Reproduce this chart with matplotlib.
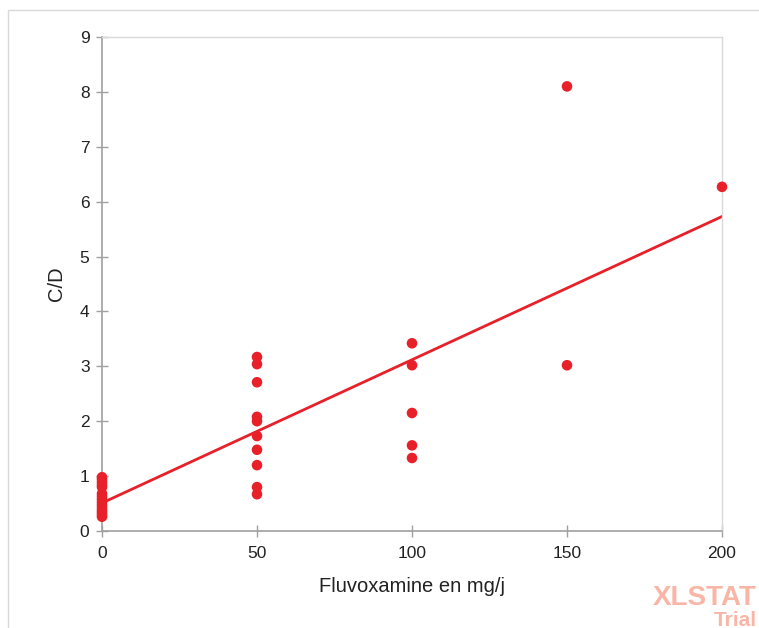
import matplotlib
matplotlib.use("Agg")
import matplotlib.pyplot as plt
from matplotlib.patches import Rectangle
import numpy as np

# dose groups (mg/j) and C/D ratios
dose_0 = [0.98, 0.94, 0.89, 0.84, 0.80, 0.68, 0.63, 0.58, 0.53, 0.48, 0.43, 0.38, 0.34, 0.30, 0.26]
dose_50 = [3.17, 3.04, 2.71, 2.08, 2.00, 1.73, 1.48, 1.20, 0.80, 0.67]
dose_100 = [3.42, 3.02, 2.15, 1.56, 1.33]
dose_150 = [8.10, 3.02]
dose_200 = [6.27]
groups = {0: dose_0, 50: dose_50, 100: dose_100, 150: dose_150, 200: dose_200}

# regression line as shown
fit_intercept = 0.51
fit_slope = 0.0261

x_ticks = [0, 50, 100, 150, 200]
y_ticks = list(range(0, 10))

RED = "#E8202A"
AXIS_GREY = "#A0A0A0"
BOX_GREY = "#D9D9D9"

plt.rcParams.update({
    "font.family": ["Liberation Sans", "DejaVu Sans"],
    "font.size": 12,
})

fig = plt.figure(figsize=(7.59, 6.28), dpi=100, facecolor="white")
ax = fig.add_axes([102 / 759, 97 / 628, 620 / 759, 494 / 628])

xs = np.concatenate([[k] * len(v) for k, v in groups.items()])
ys = np.concatenate([v for v in groups.values()])
ax.scatter(xs, ys, s=58, color=RED, edgecolors="none", zorder=3, clip_on=False)

xl = np.array([0, 200])
ax.plot(xl, fit_intercept + fit_slope * xl, color=RED, linewidth=2.0, zorder=2)

ax.set_xlim(0, 200)
ax.set_ylim(0, 9)
ax.set_xticks(x_ticks)
ax.set_yticks(y_ticks)
ax.tick_params(axis="both", direction="inout", length=8, width=1.0,
               color=AXIS_GREY, labelcolor="#222222", labelsize=12.5)
ax.tick_params(axis="x", pad=7)
ax.tick_params(axis="y", pad=5)

for side in ["left", "bottom"]:
    ax.spines[side].set_color(AXIS_GREY)
    ax.spines[side].set_linewidth(1.2)
for side in ["top", "right"]:
    ax.spines[side].set_color(BOX_GREY)
    ax.spines[side].set_linewidth(1.0)

ax.set_xlabel("Fluvoxamine en mg/j", fontsize=14.5, color="#222222", labelpad=11)
ax.set_ylabel("C/D", fontsize=14.5, color="#222222", labelpad=10)

# outer chart frame, cropped at right/bottom
fig.patches.append(Rectangle((8 / 759, -0.1), 1.2, 1.1 - 10 / 628,
                             transform=fig.transFigure, fill=False,
                             edgecolor=BOX_GREY, linewidth=1.0, zorder=0))

# watermark
fig.text(757 / 759, 1 - 598 / 628, "XLSTAT", fontsize=20, fontweight="bold",
         color="#F9B6A6", ha="right", va="center")
fig.text(757 / 759, 1 - 620 / 628, "Trial", fontsize=15, fontweight="bold",
         color="#F9B6A6", ha="right", va="center")

fig.savefig("out.png", dpi=100, facecolor="white")
